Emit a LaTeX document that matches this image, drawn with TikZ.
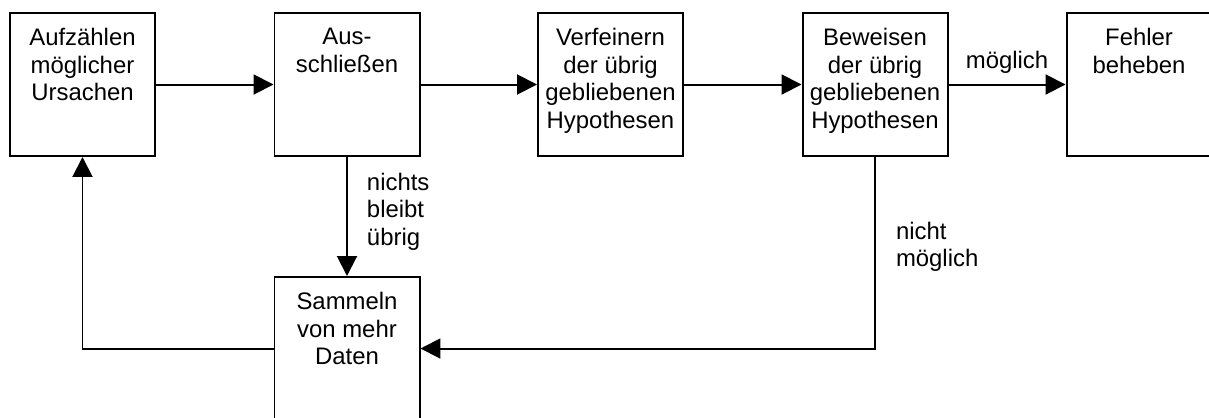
\documentclass[tikz,border=0pt]{standalone}
\usepackage{fontspec}
\setmainfont{Liberation Sans}
\usetikzlibrary{arrows.meta}
\newdimen\U
\U=0.02cm
\newcommand{\boxtext}[1]{\parbox[c][143\U][t]{145\U}{\centering\vspace*{15.5\U}#1}}

\begin{document}
\begin{tikzpicture}[x=0.02cm, y=-0.02cm, line width=1.13pt,
  >={Triangle[length=0.4cm,width=0.4cm]},
  every node/.style={font=\fontsize{13.6}{15.7}\selectfont, inner sep=0pt},
  stepbox/.style={draw, rectangle, minimum width=2.9cm, minimum height=2.86cm}]
\useasboundingbox (0,0) rectangle (1209,417);
\clip (0,0) rectangle (1209,417);
     \node[stepbox] (1) at (82.5,84.5) {\boxtext{Aufzählen\\möglicher\\Ursachen}};
     \node[stepbox] (2) at (347,84.5) {\boxtext{Aus-\\schließen}};
     \node[stepbox] (3) at (610.5,84.5) {\boxtext{Verfeinern\\der übrig\\gebliebenen\\Hypothesen}};
     \node[stepbox] (4) at (875,84.5) {\boxtext{Beweisen\\der übrig\\gebliebenen\\Hypothesen}};
     \node[stepbox] (5) at (1139,84.5) {\boxtext{Fehler\\beheben}};
     \node[stepbox] (6) at (347,348.5) {\boxtext{Sammeln\\von mehr\\Daten}};
     \node[anchor=north west, align=left] (a) at (366,172) {nichts\\bleibt\\übrig};
     \node[anchor=north west, align=left] (b) at (895,221) {nicht\\möglich};
\draw[->] (1) -- (2);
\draw[->] (2) -- (3);
\draw[->] (3) -- (4);
\draw[->] (4) -- node[above=0.2cm] (c) {möglich} (5);
\draw[->] (2) -- (6);
\draw[->] (4) |- (6);
\draw[->] (6) -| (1);
\end{tikzpicture}
\end{document}
